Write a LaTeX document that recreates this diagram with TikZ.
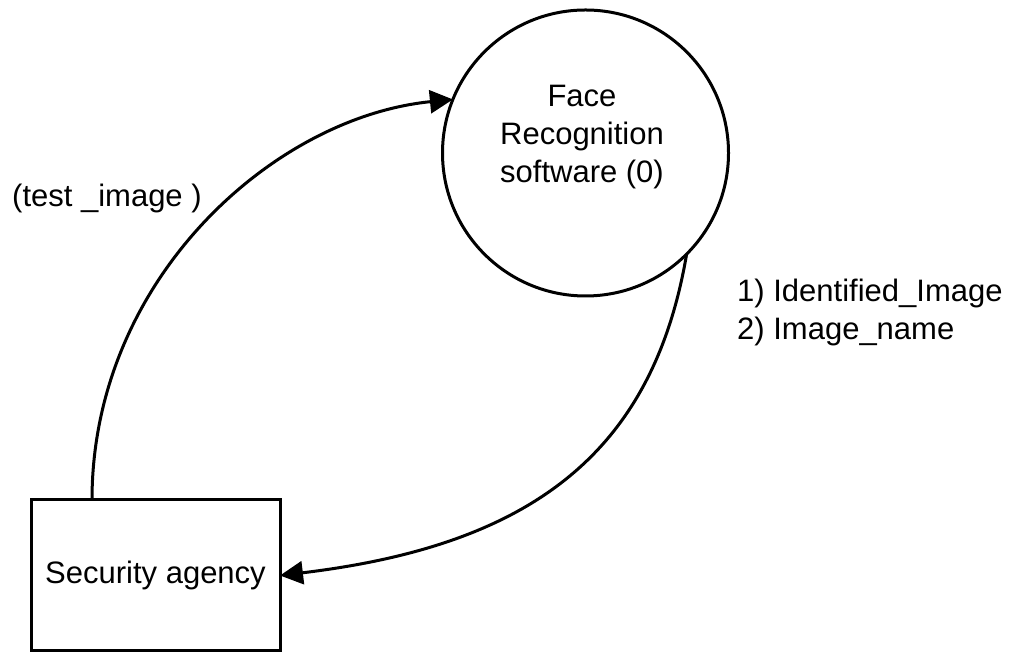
\documentclass[tikz,border=0pt]{standalone}
\usepackage{fontspec}
\setmainfont{Liberation Sans}
\usetikzlibrary{arrows.meta}

\tikzset{
  diagline/.style={line width=3pt, draw=black},
  process/.style={diagline, circle, minimum size=286pt, inner sep=0pt, outer sep=0pt},
  entity/.style={diagline, rectangle, minimum width=249pt, minimum height=151pt, inner sep=0pt, outer sep=0pt},
  txt/.style={inner sep=0pt, font=\fontsize{31}{38}\selectfont},
  flow/.style={diagline, -{Triangle[length=23pt, width=23pt]}},
}

\begin{document}
\begin{tikzpicture}[x=1pt, y=1pt]
  \useasboundingbox (0,0) rectangle (1011,652);

  % process bubble and external entity
  \node[process] (face) at (585.5,499) {};
  \node[txt, align=center] (facetext) at (582,515) {Face\\Recognition\\software (0)};
  \node[entity, txt] (agency) at (155.5,76.5) {Security agency};

  % data flows
  \coordinate (agencytop) at ([xshift=61pt]agency.north west);
  \draw[flow] (agencytop) .. controls +(0,220) and +(-180,-18) .. (face.158);
  \draw[flow] (face.-45) .. controls +(-34,-200) and +(250,30) .. (agency.east);

  % flow labels
  \node[txt, anchor=base west] (inlabel) at (12,445) {(test \_image )};
  \node[txt, align=left, anchor=north west] (outlabel) at (737,372.7)
    {1) Identified\_Image\\2) Image\_name};
\end{tikzpicture}
\end{document}
